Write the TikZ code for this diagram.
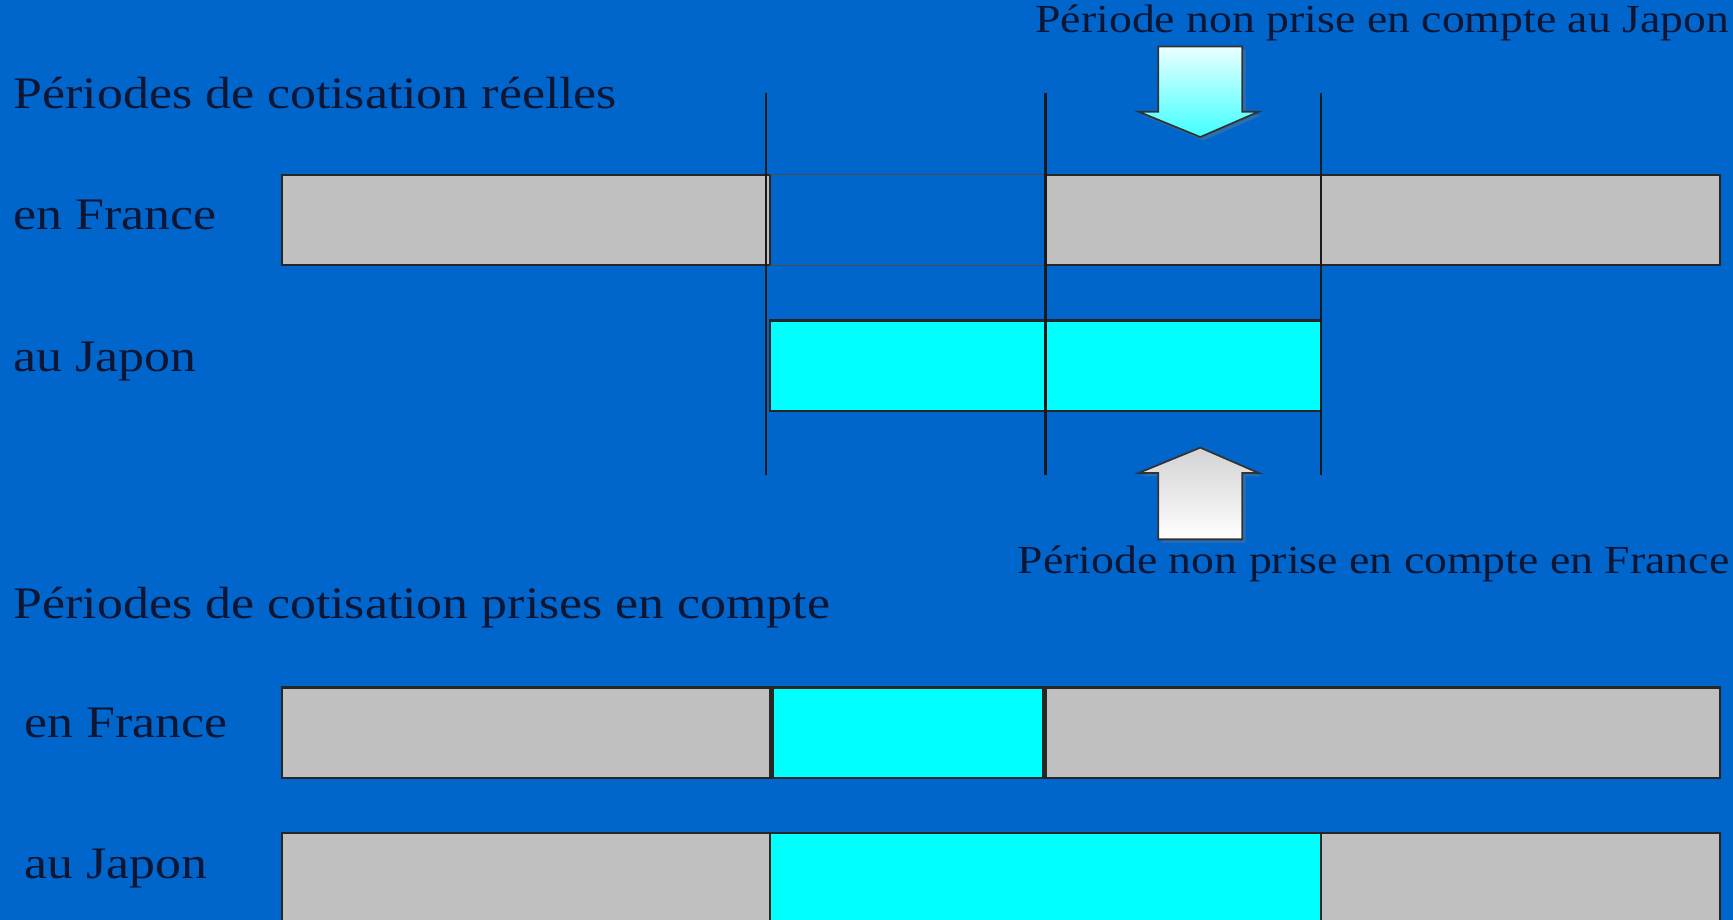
\documentclass[tikz,border=0pt]{standalone}
\usepackage{fontspec}
\setmainfont[FakeStretch=1.15]{Liberation Serif}
\usetikzlibrary{shadows}
\usetikzlibrary{scopes}

\definecolor{fond}{RGB}{0,102,204}
\definecolor{gris}{RGB}{192,192,192}
\definecolor{cyanvif}{RGB}{0,255,255}
\definecolor{encre}{RGB}{14,22,52}

\tikzset{
	barre/.style={draw=black!85, line width=1pt,
		drop shadow={shadow xshift=1.2pt, shadow yshift=-1.2pt, opacity=0.35}},
	titre/.style={anchor=base west, inner sep=0pt, text=encre,
		font=\fontsize{20.4}{25}\selectfont},
	legende/.style={anchor=base east, inner sep=0pt, text=encre,
		font=\fontsize{18}{22}\selectfont},
	fleche/.style={draw=black!80, line width=0.8pt, line join=miter,
		drop shadow={shadow xshift=1.5pt, shadow yshift=-1.5pt, opacity=0.35}}
}

\begin{document}
\begin{tikzpicture}[x=0.5pt, y=-0.5pt]
		\useasboundingbox (0,0) rectangle (1568,832);
		\clip (0,0) rectangle (1568,832);
		\fill[fond] (0,0) rectangle (1568,832);

		% periodes reelles
		\node[titre] (titreReel) at (12,98) {Périodes de cotisation réelles};
		\node[titre] (frReel) at (12,208) {en France};
		\node[titre] (jpReel) at (12,336) {au Japon};
		\begin{scope}[barre]
			\draw[fill=gris] (255,158) rectangle (697,240);
			\draw[fill=gris] (946,158) rectangle (1195,240);
			\draw[fill=gris] (1195,158) rectangle (1556,240);
			\draw[fill=cyanvif] (697,290) rectangle (946,372);
			\draw[fill=cyanvif] (946,290) rectangle (1195,372);
		\end{scope}
		\draw[black!70, line width=0.3pt] (697,158) -- (946,158) (697,240) -- (946,240);
		\foreach \x in {693,946,1195}
			\draw[black!90, line width=1pt] (\x,84) -- (\x,430);

		% fleches
		\node[legende] (legJapon) at (1565,29) {Période non prise en compte au Japon};
		\shade[fleche, top color=cyanvif!8!white, bottom color=cyanvif!75!white]
			(1048,42) -- (1124,42) -- (1124,101) -- (1139,101) -- (1086,124)
			-- (1030,101) -- (1048,101) -- cycle;
		\shade[fleche, top color=gris!70!white, bottom color=white]
			(1086,405) -- (1139,428) -- (1124,428) -- (1124,488) -- (1048,488)
			-- (1048,428) -- (1030,428) -- cycle;
		\node[legende] (legFrance) at (1565,519) {Période non prise en compte en France};

		% periodes prises en compte
		\node[titre] (titrePris) at (12,560) {Périodes de cotisation prises en compte};
		\node[titre] (frPris) at (22,667) {en France};
		\node[titre] (jpPris) at (22,795) {au Japon};
		\begin{scope}[barre]
			\draw[fill=gris] (255,622) rectangle (697,704);
			\draw[fill=cyanvif] (699,622) rectangle (944,704);
			\draw[fill=gris] (946,622) rectangle (1556,704);
			\draw[fill=gris] (255,754) rectangle (697,850);
			\draw[fill=cyanvif] (697,754) rectangle (1195,850);
			\draw[fill=gris] (1195,754) rectangle (1556,850);
		\end{scope}
	\end{tikzpicture}
\end{document}
